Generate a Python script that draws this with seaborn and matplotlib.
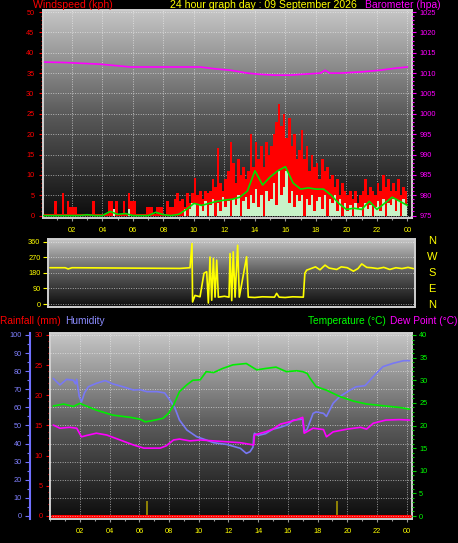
import numpy as np
import matplotlib
matplotlib.use("Agg")
import matplotlib.pyplot as plt
from matplotlib.colors import LinearSegmentedColormap
from matplotlib.ticker import MultipleLocator
import seaborn as sns

# ---------------- data ----------------
title_text = "24 hour graph day : 09 September 2026"
hour_ticks = [2, 4, 6, 8, 10, 12, 14, 16, 18, 20, 22, 24]
hour_labels = ["02", "04", "06", "08", "10", "12", "14", "16", "18", "20", "22", "00"]

# wind gust (kph), 10-minute steps
gust = [0.5, 0.5, 0.5, 0.5, 0.5, 3.5,
        0.5, 0.5, 5.5, 0.5, 3.5, 2,
        2, 2, 0.5, 0.5, 0.5, 0.5,
        0.5, 0.5, 3.5, 0.5, 0.5, 0.5,
        0.5, 0.5, 3.5, 3.5, 0.5, 3.5,
        0.5, 0.5, 3.5, 0.5, 5.5, 3.5,
        3.5, 0.5, 0.5, 0.5, 0.5, 2,
        2, 2, 0.5, 2, 2, 2,
        0.5, 3.5, 2, 2, 4, 5.5,
        3.5, 4, 2, 5.5, 3, 5.5,
        9.3, 5, 6, 4, 6, 5.5,
        6, 9, 7, 16.5, 8, 6,
        9, 11, 18, 13, 8, 14,
        10, 12, 9, 11, 20, 12,
        18, 14, 17, 12, 18, 15,
        17, 20, 23, 27.5, 22, 25,
        19, 24, 17, 20, 14, 16,
        21, 14, 17, 11, 15, 12,
        13, 9, 14, 11, 12, 9,
        10, 7, 9, 5, 8, 6,
        5, 6, 4, 6, 3, 5,
        6, 9, 5, 7, 6, 5,
        8, 6, 10, 7, 9, 6,
        8, 6, 9, 5, 7, 6]

# wind speed (kph), 10-minute steps
speed = [0, 0, 0, 0, 0, 0,
         0, 0, 0, 0, 0, 0,
         0, 0, 0, 0, 0, 0,
         0, 0, 0, 0, 0, 0,
         0, 0, 0, 0, 1.5, 0,
         0, 0, 0, 0, 1.5, 0,
         0, 0, 0, 0, 0, 0,
         0, 0, 0, 0, 0, 0,
         0, 0, 0, 0, 0, 0,
         0, 0, 1.5, 0, 1.5, 3,
         3, 0, 2.5, 1, 3.5, 0,
         2.5, 4, 0, 3, 1, 4.5,
         2, 3.5, 0, 4, 2.5, 5,
         0, 3.5, 4.5, 1.5, 5, 3,
         6.5, 2, 5, 0, 6, 3.5,
         4, 8, 2.5, 11, 5, 7,
         11, 3, 6, 2, 5, 3.5,
         5, 0, 4, 2.5, 5, 1,
         3.5, 4.5, 1.5, 5, 0, 4,
         3, 5, 1, 4, 0, 3,
         1, 2.5, 0, 3, 1.5, 2,
         0, 3, 1.5, 2.5, 0, 2,
         3.5, 1, 4, 0, 3, 2.5,
         4, 1, 3.5, 0, 4, 2.5]

# average wind (kph), 30-minute steps 00:00 .. 24:00
avg_wind = [0, 0, 0, 0, 0, 0, 0.2, 0, 0, 1, 0.3, 0.5, 0, 0, 0, 0.8, 0.2, 0,
            0.3, 1.5, 3, 2.5, 3, 3.5, 3.8, 4, 4.5, 6, 11, 7.5, 9.5, 11, 12, 8,
            6.5, 6.8, 6.5, 6.5, 5, 3, 1.5, 1.8, 1.5, 3.5, 1.5, 3, 4.5, 3.5, 2.5]

# barometer (hpa)
baro_h = [0.2, 1.5, 3.8, 5.0, 5.8, 7.8, 10.4, 11.5, 12.4, 13.5, 14.3,
          15.3, 16.3, 17.5, 18.3, 18.6, 18.9, 19.6, 21.0, 22.2, 23.2, 24.0]
baro_v = [1012.7, 1012.6, 1012.2, 1011.8, 1011.5, 1011.5, 1011.5, 1011.0, 1010.7, 1010.0, 1009.7,
          1009.5, 1009.5, 1009.8, 1010.0, 1010.7, 1010.0, 1010.0, 1010.3, 1010.7, 1011.2, 1011.5]

# wind direction (degrees)
dir_h = [0.0, 1.0, 1.2, 1.45, 5.0, 8.57, 9.23, 9.36, 9.4, 9.56,
         9.89, 10.15, 10.33, 10.44, 10.55, 10.66, 10.77, 10.88, 10.99, 11.1,
         11.5, 11.8, 11.87, 11.98, 12.08, 12.2, 12.37, 12.48, 12.96, 13.07,
         13.5, 14.0, 14.8, 14.94, 15.1, 15.5, 16.0, 16.7, 16.8, 16.92,
         17.2, 17.5, 17.8, 18.13, 18.4, 18.9, 19.2, 19.6, 20.0, 20.3,
         20.55, 20.88, 21.2, 21.6, 22.0, 22.4, 22.8, 23.2, 23.6, 23.95]
dir_v = [210, 210, 203, 210, 208, 206, 210, 350, 12, 50,
         42, 178, 187, 6, 272, 22, 264, 40, 254, 40,
         45, 40, 292, 20, 302, 40, 340, 40, 273, 40,
         38, 42, 40, 62, 40, 38, 42, 40, 178, 196,
         205, 215, 198, 225, 208, 200, 215, 210, 190, 205,
         232, 212, 210, 205, 212, 200, 210, 205, 212, 205]
dir_ticks = [0, 90, 180, 270, 360]
dir_letters = ["N", "W", "S", "E", "N"]

# humidity (%)
hum_h = [0.2, 0.65, 1.1, 1.55, 1.7, 1.78, 1.95, 2.1, 2.3, 2.56,
         3.1, 3.7, 4.2, 4.9, 5.6, 6.04, 6.5, 7.2, 7.7, 8.06,
         8.4, 8.7, 9.2, 9.86, 10.5, 11.0, 11.9, 12.8, 13.2, 13.45,
         13.65, 13.7, 13.75, 14.0, 14.5, 15.0, 15.5, 16.0, 16.35, 17.0,
         17.1, 17.3, 17.7, 17.9, 18.4, 18.6, 19.05, 19.5, 20.2, 20.6,
         21.2, 21.75, 22.4, 23.1, 23.8, 24.2]
hum_v = [76, 72.4, 75.5, 75, 73, 75.5, 66, 63, 68, 71.4,
         73.3, 74.8, 73, 71.4, 69.6, 69.8, 68.7, 68.7, 68, 64,
         59.5, 53, 47.5, 43.8, 42, 40.5, 39.5, 37.4, 34.6, 35.5,
         38, 44, 45.7, 44.5, 45.5, 48, 49, 50.5, 53, 53.5,
         46.6, 48, 56.7, 57.5, 56.7, 55, 62.3, 66, 69.6, 71.4,
         72, 77, 82.5, 84.4, 85.8, 85.8]

# temperature (C)
tmp_h = [0.2, 0.9, 1.55, 2.0, 2.2, 3.1, 4.2, 5.4, 6.04, 6.4,
         6.9, 7.6, 7.96, 8.3, 8.7, 9.2, 9.6, 10.1, 10.5, 11.0,
         11.6, 12.3, 13.2, 13.9, 14.5, 15.2, 15.9, 16.6, 17.0, 17.3,
         17.5, 17.9, 18.6, 19.05, 19.5, 20.4, 21.3, 22.6, 23.5, 24.2]
tmp_v = [24.3, 24.75, 24.2, 24.9, 24.6, 23.4, 22.3, 21.8, 21.4, 20.8,
         21.1, 21.6, 22.7, 24.5, 27.5, 29.0, 30.0, 30.1, 31.9, 31.7,
         32.6, 33.4, 33.7, 32.3, 32.6, 32.9, 31.9, 32.1, 31.9, 31.5,
         30.4, 28.6, 27.8, 27.1, 26.4, 25.4, 24.75, 24.3, 24.0, 23.6]

# dew point (C)
dew_h = [0.2, 0.65, 1.3, 1.78, 2.1, 2.45, 3.1, 3.8, 4.7, 5.6,
         6.3, 7.4, 7.8, 8.3, 8.7, 9.4, 10.1, 11.0, 11.9, 12.8,
         13.7, 13.75, 14.5, 15.0, 15.5, 16.1, 16.6, 17.0, 17.1, 17.7,
         18.4, 18.6, 19.05, 20.0, 20.9, 21.3, 21.75, 22.6, 23.5, 24.2]
dew_v = [20.1, 19.4, 19.6, 19.4, 17.5, 17.8, 18.3, 17.9, 16.8, 15.7,
         15.0, 15.0, 15.5, 16.8, 17.0, 16.6, 16.8, 16.6, 16.4, 16.2,
         15.7, 17.9, 18.6, 19.2, 20.3, 20.8, 21.3, 21.8, 18.3, 19.4,
         19.1, 17.5, 18.6, 19.2, 19.6, 19.2, 20.5, 21.2, 21.3, 21.2]

# rainfall (mm) and marker events
rain_h = [0.1, 24.2]
rain_v = [0, 0]
mark_h = [6.49, 19.3]
mark_v = [2.5, 2.5]

# ---------------- style ----------------
sns.set_theme(style="dark")
plt.rcParams['font.family'] = ['Liberation Sans', 'DejaVu Sans']

W, H = 458, 543
fig = plt.figure(figsize=(W / 100, H / 100), dpi=100, facecolor='black')


def px_axes(x0, y0, x1, y1):
    return fig.add_axes([x0 / W, 1 - y1 / H, (x1 - x0) / W, (y1 - y0) / H])


grad = LinearSegmentedColormap.from_list('bg', ['#0c0c0c', '#5a5a5a', '#c6c6c6'])
FRAME = '#d0d0d0'
GRID = dict(color='#f4f4f4', linestyle=(0, (1, 1.5)), linewidth=0.7, alpha=0.6)
TS = 5.3


def panel(ax):
    ax.set_facecolor('black')
    ax.imshow(np.linspace(0, 1, 256)[:, None], extent=[0, 1, 0, 1],
              transform=ax.transAxes, origin='lower', aspect='auto',
              cmap=grad, zorder=0, interpolation='bilinear')
    for s in ax.spines.values():
        s.set_visible(True)
        s.set_color(FRAME)
        s.set_linewidth(1.4)


def hide_spines(ax):
    for s in ax.spines.values():
        s.set_visible(False)


def hour_axis(ax, labels=True):
    ax.set_xticks(hour_ticks)
    ax.set_xticklabels(hour_labels if labels else [])
    ax.xaxis.set_minor_locator(MultipleLocator(1))
    ax.tick_params(axis='x', which='both', bottom=True, colors='#9a9a9a',
                   labelcolor='#ffff00', labelsize=TS, length=2.2, width=0.8,
                   pad=4, direction='out')
    ax.tick_params(axis='x', which='minor', length=1.5)


def clear_labels(ax):
    ax.set_xlabel('')
    ax.set_ylabel('')


# ---------------- top panel: wind + barometer ----------------
ax1 = px_axes(43, 10, 412, 218)
panel(ax1)
t10 = np.arange(len(gust) + 1) / 6.0
ax1.fill_between(t10, gust + [gust[-1]], step='post', color='#ff0000', lw=0, zorder=2)
ax1.fill_between(t10, speed + [speed[-1]], step='post', color='#c8f2c8', lw=0, zorder=3)
avg_h = np.arange(len(avg_wind)) * 0.5
sns.lineplot(x=avg_h, y=avg_wind, ax=ax1, color='#00e000', lw=1.2, zorder=4, estimator=None)
ax1.set_xlim(0.1, 24.3)
ax1.set_ylim(-0.6, 50.5)
ax1.set_yticks(np.arange(0, 51, 5))
ax1.yaxis.set_minor_locator(MultipleLocator(1))
ax1.tick_params(axis='y', which='both', left=True, colors='#ff0000', labelsize=TS,
                length=3, width=0.8, pad=3.2, direction='out')
ax1.tick_params(axis='y', which='minor', length=1.6)
hour_axis(ax1)
ax1.grid(True, which='major', **GRID)
clear_labels(ax1)

ax1b = ax1.twinx()
hide_spines(ax1b)
sns.lineplot(x=baro_h, y=baro_v, ax=ax1b, color='#ff00ff', lw=1.2, zorder=5, estimator=None)
ax1b.set_ylim(974.4, 1025.5)
ax1b.set_yticks(np.arange(975, 1026, 5))
ax1b.yaxis.set_minor_locator(MultipleLocator(1))
ax1b.tick_params(axis='y', which='both', right=True, colors='#ff00ff', labelsize=TS,
                 length=3, width=0.8, pad=2.2, direction='out')
ax1b.tick_params(axis='y', which='minor', length=1.6)
ax1b.grid(False)
clear_labels(ax1b)

# ---------------- middle panel: wind direction ----------------
ax2 = px_axes(48, 239, 415, 307)
panel(ax2)
sns.lineplot(x=dir_h, y=dir_v, ax=ax2, color='#ffff00', lw=1.2, zorder=4,
             estimator=None, sort=False)
ax2.set_xlim(-0.13, 24.06)
ax2.set_ylim(-17, 376)
ax2.set_yticks(dir_ticks)
ax2.set_xticks([])
ax2.tick_params(axis='y', which='both', left=True, colors='#ffff00', labelsize=TS,
                length=3.6, width=0.8, pad=1.8, direction='out')
ax2.grid(True, axis='y', **GRID)
clear_labels(ax2)

for lab, yy in zip(dir_letters, [240.5, 257, 273.5, 289.5, 305]):
    fig.text(432 / W, 1 - yy / H, lab, color='#ffff00', fontsize=8,
             ha='center', va='center')

# ---------------- bottom panel ----------------
ax3 = px_axes(50, 333, 412, 519)
panel(ax3)
sns.lineplot(x=rain_h, y=rain_v, ax=ax3, color='#ff0000', lw=2.2, zorder=4, estimator=None)
ax3.vlines(mark_h, -0.4, mark_v, color='#b0a000', lw=1.1, zorder=3)
ax3.set_xlim(-0.02, 24.36)
ax3.set_ylim(-0.5, 30.33)
ax3.set_yticks(np.arange(0, 31, 5))
ax3.yaxis.set_minor_locator(MultipleLocator(1))
ax3.tick_params(axis='y', which='both', left=True, colors='#ff0000', labelsize=TS,
                length=3, width=0.8, pad=2.2, direction='out')
ax3.tick_params(axis='y', which='minor', length=1.6)
hour_axis(ax3)
ax3.grid(True, axis='x', **GRID)
clear_labels(ax3)

axh = ax3.twinx()
hide_spines(axh)
axh.spines['left'].set_visible(True)
axh.spines['left'].set_position(('outward', 14.4))
axh.spines['left'].set_color('#7070ff')
axh.spines['left'].set_linewidth(1.5)
axh.yaxis.set_ticks_position('left')
axh.yaxis.set_label_position('left')
sns.lineplot(x=hum_h, y=hum_v, ax=axh, color='#7878f4', lw=1.2, zorder=4, estimator=None)
axh.set_ylim(-1.66, 101.1)
axh.set_yticks(np.arange(0, 101, 10))
axh.yaxis.set_minor_locator(MultipleLocator(5))
axh.tick_params(axis='y', which='both', left=True, right=False, colors='#7070ff',
                labelcolor='#8080ff', labelsize=TS, length=3.6, width=0.8, pad=2.2,
                direction='out')
axh.tick_params(axis='y', which='minor', length=2)
axh.grid(True, axis='y', **GRID)
clear_labels(axh)

axt = ax3.twinx()
hide_spines(axt)
sns.lineplot(x=tmp_h, y=tmp_v, ax=axt, color='#00ee00', lw=1.2, zorder=5, estimator=None)
sns.lineplot(x=dew_h, y=dew_v, ax=axt, color='#ff00ff', lw=1.2, zorder=5, estimator=None)
axt.set_ylim(-0.66, 40.44)
axt.set_yticks(np.arange(0, 41, 5))
axt.yaxis.set_minor_locator(MultipleLocator(1))
axt.tick_params(axis='y', which='both', right=True, colors='#00cc00',
                labelcolor='#00ff00', labelsize=TS, length=3, width=0.8, pad=2.2,
                direction='out')
axt.tick_params(axis='y', which='minor', length=1.6)
axt.grid(False)
clear_labels(axt)

# ---------------- header texts ----------------
yt = 1 - 5.5 / H
fig.text(33 / W, yt, 'Windspeed (kph)', color='#ff0000', fontsize=7.6, ha='left', va='center')
fig.text(263.5 / W, yt, title_text, color='#ffff00', fontsize=7.6, ha='center', va='center')
fig.text(441 / W, yt, 'Barometer (hpa)', color='#ff00ff', fontsize=7.5, ha='right', va='center')

yb = 1 - 321 / H
fig.text(0.5 / W, yb, 'Rainfall (mm)', color='#ff0000', fontsize=7.3, ha='left', va='center')
fig.text(65.5 / W, yb, 'Humidity', color='#8c8cff', fontsize=7.3, ha='left', va='center')
fig.text(308 / W, yb, 'Temperature (°C)', color='#00ff00', fontsize=7.3, ha='left', va='center')
fig.text(457 / W, yb, 'Dew Point (°C)', color='#ff00ff', fontsize=7.3, ha='right', va='center')

fig.savefig('out.png', dpi=100, facecolor='black')
